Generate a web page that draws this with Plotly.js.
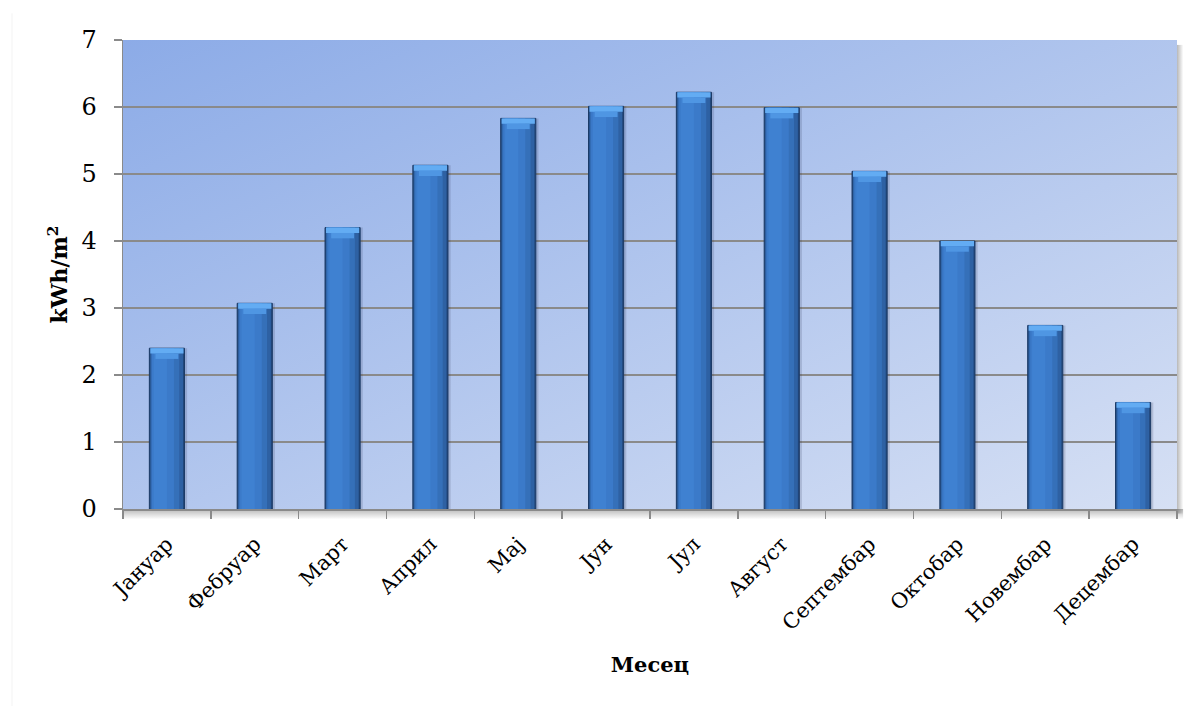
<!DOCTYPE html>
<html lang="sr">
<head>
<meta charset="utf-8">
<script src="https://cdn.plot.ly/plotly-3.0.1.min.js"></script>
<style>
  html, body { margin: 0; padding: 0; background: #ffffff; }
  #chart { width: 1203px; height: 706px; }
</style>
</head>
<body>
<div id="chart"></div>
<script>
// Monthly average solar irradiation (kWh/m² per day)
const months = ['Јануар', 'Фебруар', 'Март', 'Април', 'Мај', 'Јун',
                'Јул', 'Август', 'Септембар', 'Октобар', 'Новембар', 'Децембар'];
const irradiation = [2.40, 3.07, 4.20, 5.13, 5.83, 6.01, 6.22, 5.99, 5.04, 4.00, 2.74, 1.59];
const yTicks = [0, 1, 2, 3, 4, 5, 6, 7];
const xTitle = 'Месец';
const yTitle = 'kWh/m<sup>2</sup>';

const FONT = 'DejaVu Serif, Liberation Serif, serif';

// Build an SVG gradient as a data URI for use as a layout image
function gradientImage(x1, y1, x2, y2, stops) {
  const s = stops.map(([o, c, a]) =>
    `<stop offset="${o}" stop-color="${c}" stop-opacity="${a}"/>`).join('');
  const svg = `<svg xmlns="http://www.w3.org/2000/svg" width="100" height="100" preserveAspectRatio="none">` +
    `<defs><linearGradient id="g" x1="${x1}" y1="${y1}" x2="${x2}" y2="${y2}">${s}</linearGradient></defs>` +
    `<rect width="100" height="100" fill="url(#g)"/></svg>`;
  return 'data:image/svg+xml;utf8,' + encodeURIComponent(svg);
}

// One vertical strip of every bar; stacking several strips shades the columns
function strip(offset, width, color, extra) {
  return Object.assign({
    type: 'bar',
    x: months,
    y: irradiation,
    offset: offset,
    width: width,
    marker: { color: color, line: { width: 0 } },
    hoverinfo: 'skip',
    showlegend: false
  }, extra || {});
}

// Top bevel pieces are measured down from each bar's value
const bevel = 0.08;
const bevelUpperBase = irradiation.map(v => v - bevel);
const bevelLowerBase = irradiation.map(v => v - 2 * bevel);
const bevelLen = irradiation.map(() => bevel);

const traces = [
  strip(-0.2, 0.43, 'rgba(30,40,70,0.16)'),
  strip(-0.2, 0.4, '#22487c', { marker: { color: '#22487c', line: { width: 1, color: '#1b3a66' } } }),
  strip(-0.189, 0.372, '#2e61a3'),
  strip(-0.18, 0.32, '#3570b9'),
  strip(-0.17, 0.25, '#3b7ac9'),
  strip(-0.15, 0.15, '#3f81d1'),
  strip(-0.189, 0.378, '#63acf3', { y: bevelLen, base: bevelUpperBase }),
  strip(-0.13, 0.26, '#4f96e3', { y: bevelLen, base: bevelLowerBase })
];

const layout = {
  width: 1203,
  height: 706,
  margin: { l: 123, r: 26, t: 40, b: 197 },
  paper_bgcolor: '#ffffff',
  plot_bgcolor: 'rgba(0,0,0,0)',
  barmode: 'overlay',
  font: { family: FONT, color: '#000000' },
  xaxis: {
    type: 'category',
    categoryorder: 'array',
    categoryarray: months,
    tickangle: -45,
    tickson: 'boundaries',
    ticks: 'outside',
    ticklen: 8,
    tickwidth: 1.5,
    tickcolor: '#8a8a8a',
    showline: true,
    linecolor: '#8a8a8a',
    linewidth: 1.5,
    showgrid: false,
    tickfont: { family: FONT, size: 21, color: '#000000' },
    ticklabelstandoff: 13,
    title: { text: '<b>' + xTitle + '</b>', font: { family: FONT, size: 21, color: '#000000' }, standoff: 23 },
    fixedrange: true
  },
  yaxis: {
    range: [0, 7],
    tickvals: yTicks,
    ticktext: yTicks.map(String),
    ticks: 'outside',
    ticklen: 8,
    tickwidth: 1.5,
    tickcolor: '#8a8a8a',
    showline: true,
    linecolor: '#8a8a8a',
    linewidth: 1.5,
    showgrid: true,
    gridcolor: '#8a8a8a',
    gridwidth: 1.5,
    zeroline: false,
    tickfont: { family: FONT, size: 24, color: '#000000' },
    ticklabelstandoff: 12,
    title: { text: '<b>' + yTitle + '</b>', font: { family: FONT, size: 22, color: '#000000' }, standoff: 7 },
    fixedrange: true
  },
  images: [
    {
      source: gradientImage(0, 0, 1, 1, [[0, '#8cabe7', 1], [1, '#d6e0f4', 1]]),
      xref: 'paper', yref: 'paper', x: 0, y: 1, sizex: 1, sizey: 1,
      xanchor: 'left', yanchor: 'top', sizing: 'stretch', layer: 'below'
    },
    {
      source: gradientImage(0, 0, 0, 1, [[0, '#000000', 0.28], [1, '#000000', 0]]),
      xref: 'paper', yref: 'paper', x: 0, y: 0, sizex: 1.006, sizey: 0.022,
      xanchor: 'left', yanchor: 'top', sizing: 'stretch', layer: 'below'
    },
    {
      source: gradientImage(0, 0, 1, 0, [[0, '#000000', 0.28], [1, '#000000', 0]]),
      xref: 'paper', yref: 'paper', x: 1, y: 0.99, sizex: 0.006, sizey: 1.0,
      xanchor: 'left', yanchor: 'top', sizing: 'stretch', layer: 'below'
    }
  ],
  shapes: [
    {
      type: 'line', xref: 'paper', yref: 'paper',
      x0: -0.1053, x1: -0.1053, y0: 1.057, y1: -0.42,
      line: { color: '#f3f3f3', width: 1 }
    }
  ]
};

Plotly.newPlot('chart', traces, layout, { displayModeBar: false, staticPlot: true });
</script>
</body>
</html>
